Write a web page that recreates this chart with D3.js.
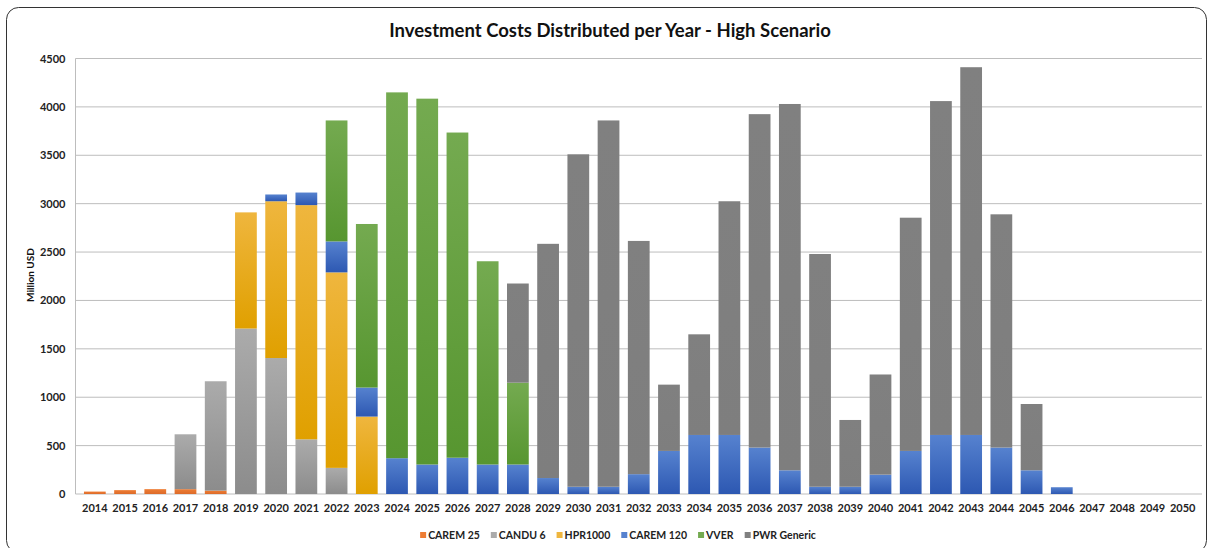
<!DOCTYPE html>
<html>
<head>
<meta charset="utf-8">
<script src="https://cdn.jsdelivr.net/npm/d3@7"></script>
<style>
  body { margin: 0; background: #fff; }
  text { font-family: Lato, "Open Sans", sans-serif; }
</style>
</head>
<body>
<svg id="chart" width="1211" height="548"></svg>
<script>
const years = d3.range(2014, 2051).map(String);

// values in Million USD
const carem25 = [25, 40, 50, 50, 35, 0, 0, 0, 0, 0, 0, 0, 0, 0, 0, 0, 0, 0, 0, 0, 0, 0, 0, 0, 0, 0, 0, 0, 0, 0, 0, 0, 0, 0, 0, 0, 0];
const candu6 = [0, 0, 0, 567, 1130, 1710, 1405, 565, 270, 0, 0, 0, 0, 0, 0, 0, 0, 0, 0, 0, 0, 0, 0, 0, 0, 0, 0, 0, 0, 0, 0, 0, 0, 0, 0, 0, 0];
const hpr1000 = [0, 0, 0, 0, 0, 1200, 1620, 2420, 2020, 800, 0, 0, 0, 0, 0, 0, 0, 0, 0, 0, 0, 0, 0, 0, 0, 0, 0, 0, 0, 0, 0, 0, 0, 0, 0, 0, 0];
const carem120 = [0, 0, 0, 0, 0, 0, 70, 130, 320, 300, 370, 305, 375, 305, 305, 165, 75, 75, 205, 445, 610, 610, 480, 245, 75, 75, 200, 445, 610, 610, 480, 245, 70, 0, 0, 0, 0];
const vver = [0, 0, 0, 0, 0, 0, 0, 0, 1250, 1690, 3780, 3780, 3360, 2100, 845, 0, 0, 0, 0, 0, 0, 0, 0, 0, 0, 0, 0, 0, 0, 0, 0, 0, 0, 0, 0, 0, 0];
const pwrGeneric = [0, 0, 0, 0, 0, 0, 0, 0, 0, 0, 0, 0, 0, 0, 1025, 2420, 3435, 3785, 2410, 685, 1040, 2415, 3445, 3785, 2405, 690, 1035, 2410, 3450, 3800, 2410, 685, 0, 0, 0, 0, 0];

const seriesNames = ["CAREM 25", "CANDU 6", "HPR1000", "CAREM 120", "VVER", "PWR Generic"];
const seriesValues = [carem25, candu6, hpr1000, carem120, vver, pwrGeneric];
const yTicks = [0, 500, 1000, 1500, 2000, 2500, 3000, 3500, 4000, 4500];

// top / bottom colours of each bar gradient
const colorTop = ["#ee7d33", "#ababab", "#efb63e", "#5682cf", "#74aa50", "#808080"];
const colorBottom = ["#dc6a2a", "#8c8c8c", "#e0a000", "#2d58b2", "#579630", "#7e7e7e"];

const table = years.map((y, i) => {
    const row = { year: y };
    seriesNames.forEach((s, j) => row[s] = seriesValues[j][i]);
    return row;
});
const stacked = d3.stack().keys(seriesNames)(table);

const svg = d3.select("#chart");
const margin = { top: 58.5, right: 9, bottom: 54, left: 75.5 };
const width = 1211 - margin.left - margin.right;
const height = 548 - margin.top - margin.bottom;

// gradients
const defs = svg.append("defs");
seriesNames.forEach((s, j) => {
    const g = defs.append("linearGradient")
        .attr("id", "grad" + j)
        .attr("x1", 0).attr("y1", 0).attr("x2", 0).attr("y2", 1);
    g.append("stop").attr("offset", "0%").attr("stop-color", colorTop[j]);
    g.append("stop").attr("offset", "100%").attr("stop-color", colorBottom[j]);
});

// outer frame
svg.append("rect")
    .attr("x", 6.5).attr("y", 7.5)
    .attr("width", 1200).attr("height", 545)
    .attr("rx", 12).attr("ry", 12)
    .attr("fill", "none")
    .attr("stroke", "#333")
    .attr("stroke-width", 1);

svg.append("text")
    .attr("x", 610)
    .attr("y", 37)
    .attr("text-anchor", "middle")
    .style("font-size", "18.5px")
    .style("font-weight", "bold")
    .attr("fill", "#111")
    .text("Investment Costs Distributed per Year - High Scenario");

const chart = svg.append("g").attr("transform", `translate(${margin.left},${margin.top})`);

const x = d3.scaleBand().domain(years).range([0, width]).padding(0.28);
const y = d3.scaleLinear().domain([0, 4500]).range([height, 0]);

// gridlines
chart.append("g")
    .selectAll("line")
    .data(yTicks)
    .join("line")
    .attr("x1", 0).attr("x2", width)
    .attr("y1", d => y(d)).attr("y2", d => y(d))
    .attr("stroke", "#bdbdbd")
    .attr("stroke-width", 1);

chart.append("line")
    .attr("x1", 0).attr("x2", 0)
    .attr("y1", 0).attr("y2", height)
    .attr("stroke", "#bdbdbd");

// y axis labels
const yAxis = chart.append("g")
    .call(d3.axisLeft(y).tickValues(yTicks).tickFormat(d3.format("d")).tickSize(0).tickPadding(10));
yAxis.select(".domain").remove();
yAxis.selectAll("text")
    .style("font-size", "11px")
    .style("font-weight", "bold")
    .attr("fill", "#222");

// x axis labels
const xAxis = chart.append("g")
    .attr("transform", `translate(0,${height})`)
    .call(d3.axisBottom(x).tickSize(0).tickPadding(10));
xAxis.select(".domain").remove();
xAxis.selectAll("text")
    .style("font-size", "11px")
    .style("font-weight", "bold")
    .attr("fill", "#222");

svg.append("text")
    .attr("transform", "translate(34,275) rotate(-90)")
    .attr("text-anchor", "middle")
    .style("font-size", "10px")
    .style("font-weight", "bold")
    .attr("fill", "#111")
    .text("Million USD");

// bars
chart.append("g")
    .selectAll("g")
    .data(stacked)
    .join("g")
    .attr("fill", (d, j) => `url(#grad${j})`)
    .selectAll("rect")
    .data(d => d.filter(p => p[1] - p[0] > 0))
    .join("rect")
    .attr("x", d => x(d.data.year))
    .attr("width", x.bandwidth())
    .attr("y", d => y(d[1]))
    .attr("height", d => y(d[0]) - y(d[1]));

// legend
const legend = svg.append("g").attr("transform", "translate(0,535)");
const items = legend.selectAll("g")
    .data(seriesNames)
    .join("g");
items.append("rect")
    .attr("y", -3)
    .attr("width", 6).attr("height", 6)
    .attr("fill", (d, j) => colorTop[j]);
items.append("text")
    .attr("x", 8)
    .attr("dy", "0.35em")
    .style("font-size", "10.5px")
    .style("font-weight", "bold")
    .attr("fill", "#222")
    .text(d => d);

let cx = 0;
const offsets = [];
items.each(function () {
    offsets.push(cx);
    cx += this.getBBox().width + 11;
});
const total = cx - 11;
const startX = 618 - total / 2;
items.attr("transform", (d, j) => `translate(${startX + offsets[j]},0)`);
</script>
</body>
</html>
